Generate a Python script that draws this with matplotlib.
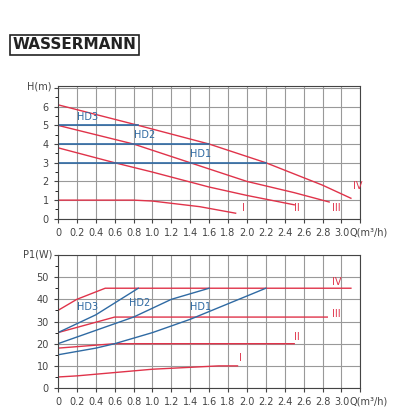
import matplotlib
matplotlib.use("Agg")
import matplotlib.pyplot as plt
import matplotlib.transforms as mtransforms
import numpy as np

red = "#e0334a"
blue = "#2f6aa3"

# head curves H(m) vs Q(m3/h)
h_curves = {
    "IV": ([0, 0.85, 1.6, 2.2, 2.8, 3.1], [6.1, 5.0, 4.0, 3.0, 1.8, 1.1]),
    "III": ([0, 0.8, 1.4, 2.0, 2.5, 2.87], [5.0, 4.0, 3.0, 2.0, 1.4, 0.9]),
    "II": ([0, 0.6, 1.0, 1.6, 2.0, 2.5], [3.8, 3.0, 2.5, 1.7, 1.25, 0.75]),
    "I": ([0, 0.8, 1.0, 1.5, 1.88], [1.0, 1.0, 0.95, 0.65, 0.3]),
}
h_label_pos = {"IV": (3.12, 1.6), "III": (2.9, 0.4), "II": (2.5, 0.4), "I": (1.95, 0.4)}
hd_heads = {"HD3": (5, 0.85), "HD2": (4, 1.6), "HD1": (3, 2.2)}
hd_h_label = {"HD3": (0.2, 5.3), "HD2": (0.8, 4.3), "HD1": (1.4, 3.3)}

# power curves P1(W) vs Q
p_curves = {
    "IV": ([0, 0.2, 0.5, 3.1], [35, 40, 45, 45]),
    "III": ([0, 0.6, 2.85], [25, 32, 32]),
    "II": ([0, 0.6, 2.5], [18, 20, 20]),
    "I": ([0, 0.2, 1.0, 1.7, 1.9], [5, 5.5, 8.5, 10, 10]),
}
p_label_pos = {"IV": (2.9, 46.5), "III": (2.9, 32), "II": (2.5, 21.5), "I": (1.92, 12)}
hd_power = {
    "HD3": ([0, 0.4, 0.85], [25, 33, 45]),
    "HD2": ([0, 0.6, 0.8, 1.2, 1.6], [20, 29, 32, 40, 45]),
    "HD1": ([0, 0.4, 0.6, 1.0, 1.4, 2.2], [15, 18, 20, 25, 31, 45]),
}
hd_p_label = {"HD3": (0.2, 35), "HD2": (0.75, 37), "HD1": (1.4, 35)}

fig = plt.figure(figsize=(4.2, 4.2), dpi=100)
fig.text(0.03, 0.893, "WASSERMANN", fontsize=11, fontweight="bold", color="#222",
         family="DejaVu Sans", va="center",
         bbox=dict(boxstyle="square,pad=0.15", fc="white", ec="#222", lw=1.2))

xt = np.arange(0, 3.01, 0.2)


def style(ax, ylim, yminor, ylabel):
    ax.set_xlim(0, 3.15)
    ax.set_ylim(*ylim)
    ax.set_xticks(list(xt) + [3.2])
    ax.set_xticklabels(["0"] + [f"{v:.1f}" for v in xt[1:]] + [""])
    ax.set_yticks(yminor, minor=True)
    ax.grid(True, which="major", color="#999", lw=0.8)
    ax.tick_params(labelsize=7, colors="#444", length=3)
    ax.tick_params(which="minor", length=2)
    ax.set_axisbelow(True)
    for s in ax.spines.values():
        s.set_color("#444")
    off = mtransforms.offset_copy(ax.get_xaxis_transform(), fig=fig, y=-10, units="points")
    ax.text(3.085, 0, "Q(m³/h)", transform=off, fontsize=7, color="#444", va="center")
    ax.text(-0.02, 1.0, ylabel, transform=ax.transAxes, fontsize=7,
            color="#444", ha="right", va="center")


ax1 = fig.add_axes([0.138, 0.479, 0.72, 0.316])
style(ax1, (0, 7.1), np.arange(0, 7.1, 0.5), "H(m)")
ax1.set_yticks(list(range(0, 8)))
ax1.set_yticklabels([str(i) for i in range(0, 7)] + [""])
for k, (q, h) in h_curves.items():
    ax1.plot(q, h, color=red, lw=1)
    ax1.text(*h_label_pos[k], k, color=red, fontsize=7)
for k, (y, xe) in hd_heads.items():
    ax1.plot([0, xe], [y, y], color=blue, lw=1.2)
    ax1.text(*hd_h_label[k], k, color=blue, fontsize=7)

ax2 = fig.add_axes([0.138, 0.076, 0.72, 0.317])
style(ax2, (0, 60), range(0, 60, 5), "P1(W)")
ax2.set_yticks(list(range(0, 61, 10)))
ax2.set_yticklabels([str(i) for i in range(0, 51, 10)] + [""])
for k, (q, p) in p_curves.items():
    ax2.plot(q, p, color=red, lw=1)
    ax2.text(*p_label_pos[k], k, color=red, fontsize=7)
for k, (q, p) in hd_power.items():
    ax2.plot(q, p, color=blue, lw=1)
    ax2.text(*hd_p_label[k], k, color=blue, fontsize=7)

fig.savefig("out.png", dpi=100)
